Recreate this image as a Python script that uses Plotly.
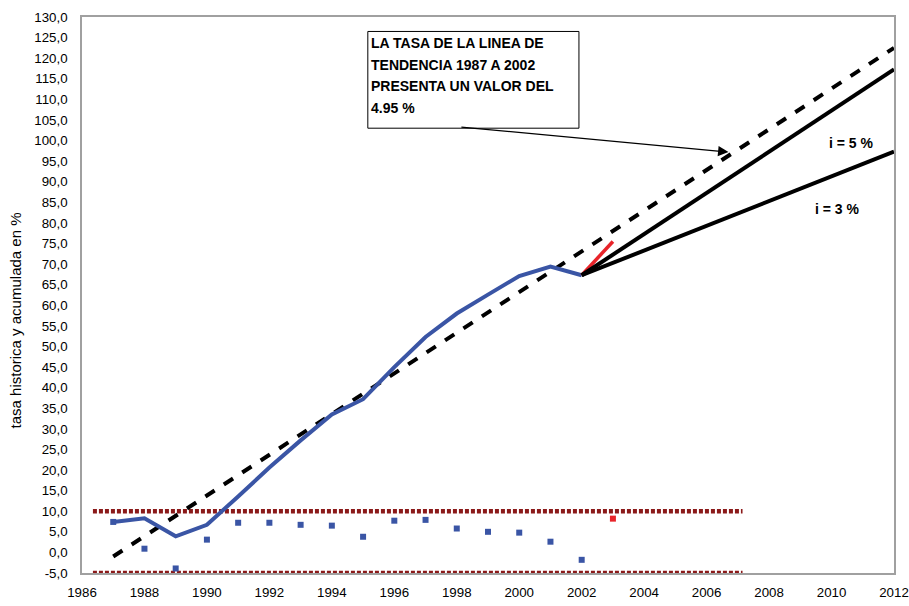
import plotly.graph_objects as go

# datos historicos
anios = list(range(1987, 2003))
tasa_acumulada = [7.4, 8.3, 3.9, 6.7, 13.6, 20.6, 27.2, 33.5, 37.2, 45.0,
                  52.3, 58.0, 62.6, 67.1, 69.4, 67.3]
tasa_anual = [7.4, 0.9, -3.9, 3.1, 7.2, 7.2, 6.7, 6.5, 3.8, 7.7,
              7.9, 5.8, 5.0, 4.8, 2.6, -1.8]

# 2003 (rojo)
anio_2003 = [2003]
tasa_anual_2003 = [8.2]
seg_rojo_x = [2002, 2003]
seg_rojo_y = [67.3, 75.5]

# linea de tendencia 1987-2002
tend_x = [1987, 2012]
tend_y = [-1.0, 122.5]

# proyecciones
proy_x = [2002, 2012]
proy_5 = [67.3, 117.3]
proy_3 = [67.3, 97.3]

# limites
lim_x = [1986.35, 2007.15]
lim_sup = [10, 10]
lim_inf = [-5, -5]

x_ticks = list(range(1986, 2013, 2))
y_ticks = list(range(-5, 131, 5))
y_labels = [f"{v:.1f}".replace(".", ",") for v in y_ticks]

BLUE = "#3A55A5"
DARKRED = "#8B1A1A"
FONT = "Liberation Sans, Arial"

fig = go.Figure()

for y in (lim_sup, lim_inf):
    fig.add_trace(go.Scatter(x=lim_x, y=y, mode="lines", cliponaxis=False,
                             line=dict(color=DARKRED, width=4.5, dash="4px,2px")))

fig.add_trace(go.Scatter(x=tend_x, y=tend_y, mode="lines",
                         line=dict(color="black", width=4, dash="11px,11px")))

fig.add_trace(go.Scatter(x=anios, y=tasa_acumulada, mode="lines",
                         line=dict(color=BLUE, width=4)))

fig.add_trace(go.Scatter(x=seg_rojo_x, y=seg_rojo_y, mode="lines",
                         line=dict(color="#E8242A", width=3.5)))

fig.add_trace(go.Scatter(x=proy_x, y=proy_5, mode="lines",
                         line=dict(color="black", width=4)))
fig.add_trace(go.Scatter(x=proy_x, y=proy_3, mode="lines",
                         line=dict(color="black", width=4)))

fig.add_trace(go.Scatter(x=anios, y=tasa_anual, mode="markers",
                         marker=dict(symbol="square", size=6, color=BLUE)))
fig.add_trace(go.Scatter(x=anio_2003, y=tasa_anual_2003, mode="markers",
                         marker=dict(symbol="square", size=6, color="#E8242A")))

# cuadro de texto
lineas = ["LA TASA DE LA LINEA DE", "TENDENCIA 1987 A 2002",
          "PRESENTA UN VALOR DEL", "4.95 %"]
fig.add_shape(type="rect", xref="paper", yref="paper",
              x0=0.352, x1=0.612, y0=0.800, y1=0.974,
              line=dict(color="black", width=1), fillcolor="white")
for i, t in enumerate(lineas):
    fig.add_annotation(x=0.354, y=0.953 - i * 0.0387, xref="paper", yref="paper",
                       text=f"<b>{t}</b>", showarrow=False, xanchor="left",
                       yanchor="middle", font=dict(size=14, color="black", family=FONT))

# flecha
fig.add_annotation(x=2006.7, y=97.2, ax=1998.1, ay=103.3, xref="x", yref="y",
                   axref="x", ayref="y", text="", showarrow=True,
                   arrowhead=2, arrowsize=1.6, arrowwidth=1.3, arrowcolor="black")

fig.add_annotation(x=2010.65, y=99.4, text="<b>i = 5 %</b>", showarrow=False,
                   font=dict(size=14, color="black", family=FONT))
fig.add_annotation(x=2010.2, y=83.4, text="<b>i = 3 %</b>", showarrow=False,
                   font=dict(size=14, color="black", family=FONT))

fig.add_annotation(x=-0.082, y=0.455, xref="paper", yref="paper",
                   xanchor="center", yanchor="middle",
                   text="tasa historica y acumulada en %", textangle=-90,
                   showarrow=False, font=dict(size=15, color="black", family=FONT))

fig.update_layout(
    width=909, height=606,
    margin=dict(l=82, r=15, t=17, b=33),
    paper_bgcolor="white", plot_bgcolor="white",
    showlegend=False,
    font=dict(family=FONT, size=13.3, color="black"),
    xaxis=dict(range=[1986, 2012], tickvals=x_ticks, showgrid=False, zeroline=False,
               showline=True, mirror=True, linecolor="#A0A0A0", linewidth=1.5,
               ticks="", ticklabelstandoff=6, automargin=False),
    yaxis=dict(range=[-5, 130], tickvals=y_ticks, ticktext=y_labels, showgrid=False,
               zeroline=False, showline=True, mirror=True, linecolor="#A0A0A0",
               linewidth=1.5, ticks="", ticklabelstandoff=10, automargin=False),
)

fig.write_html("out.html", config={"displayModeBar": False},
               post_script="document.body.style.margin = '0';")
